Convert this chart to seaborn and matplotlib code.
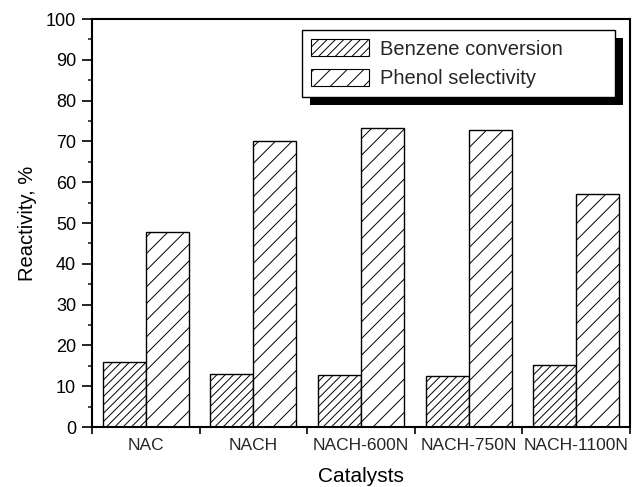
import matplotlib
matplotlib.use('Agg')
import matplotlib.pyplot as plt
import seaborn as sns
import pandas as pd
from matplotlib.patches import Patch
from matplotlib import patheffects
from matplotlib.ticker import MultipleLocator

catalysts = ["NAC", "NACH", "NACH-600N", "NACH-750N", "NACH-1100N"]
benzene_conversion = [15.9, 13.0, 12.7, 12.5, 15.2]
phenol_selectivity = [47.7, 70.1, 73.4, 72.8, 57.1]
series_names = ["Benzene conversion", "Phenol selectivity"]
hatches = ["////", "//"]

sns.set_theme(style="ticks")
plt.rcParams['font.family'] = ['Liberation Sans', 'DejaVu Sans']
plt.rcParams['hatch.linewidth'] = 0.7
plt.rcParams['hatch.color'] = 'black'

df = pd.DataFrame({
    "Catalyst": catalysts + catalysts,
    "Series": [series_names[0]] * len(catalysts) + [series_names[1]] * len(catalysts),
    "Value": benzene_conversion + phenol_selectivity,
})

fig = plt.figure(figsize=(6.32, 4.87), dpi=100)
ax = fig.add_axes([92 / 632, 1 - 427 / 487, (630 - 92) / 632, (427 - 19) / 487])

sns.barplot(data=df, x="Catalyst", y="Value", hue="Series", order=catalysts,
            hue_order=series_names, palette=["white", "white"], edgecolor="black",
            linewidth=1.0, width=0.8, gap=0, legend=False, errorbar=None,
            saturation=1, ax=ax)

for cont, h in zip(ax.containers, hatches):
    for bar in cont:
        bar.set_hatch(h)
        bar.set_edgecolor("black")

ax.set_xlim(-0.5, len(catalysts) - 0.5)
ax.set_ylim(0, 100)

# x ticks: boundaries (major, unlabeled), centers (minor, labeled)
ax.set_xticks([i - 0.5 for i in range(len(catalysts) + 1)])
ax.set_xticklabels([])
ax.set_xticks(range(len(catalysts)), minor=True)
ax.set_xticklabels(catalysts, minor=True, fontsize=12.5)
ax.tick_params(axis='x', which='major', direction='out', length=5, width=1.2)
ax.tick_params(axis='x', which='minor', length=0, pad=8)

ax.yaxis.set_major_locator(MultipleLocator(10))
ax.yaxis.set_minor_locator(MultipleLocator(5))
ax.tick_params(axis='y', which='major', direction='out', length=7.5, width=1.2, labelsize=13, pad=4)
ax.tick_params(axis='y', which='minor', direction='out', length=3, width=1.2)
ax.tick_params(colors='black')

for s in ax.spines.values():
    s.set_visible(True)
    s.set_linewidth(1.5)
    s.set_color('black')

ax.set_xlabel("Catalysts", fontsize=15, labelpad=10, color='black')
ax.set_ylabel("Reactivity, %", fontsize=14.5, labelpad=6, color='black')

handles = [Patch(facecolor='white', edgecolor='black', hatch=h, linewidth=0.8) for h in hatches]
leg = ax.legend(handles, series_names, loc='upper left',
                bbox_to_anchor=((302 - 92) / 538, 0, (615 - 302) / 538, (427 - 30) / 408),
                mode='expand', borderaxespad=0, fontsize=14.5, frameon=True,
                fancybox=False, framealpha=1, edgecolor='black',
                handlelength=2.9, handleheight=0.95, labelspacing=0.5,
                handletextpad=0.5, borderpad=0.45)
leg.get_frame().set_linewidth(1.0)
leg.get_frame().set_path_effects([
    patheffects.withSimplePatchShadow(offset=(5.5, -5.5), shadow_rgbFace='black', alpha=1.0)
])

fig.savefig("out.png", dpi=100)
